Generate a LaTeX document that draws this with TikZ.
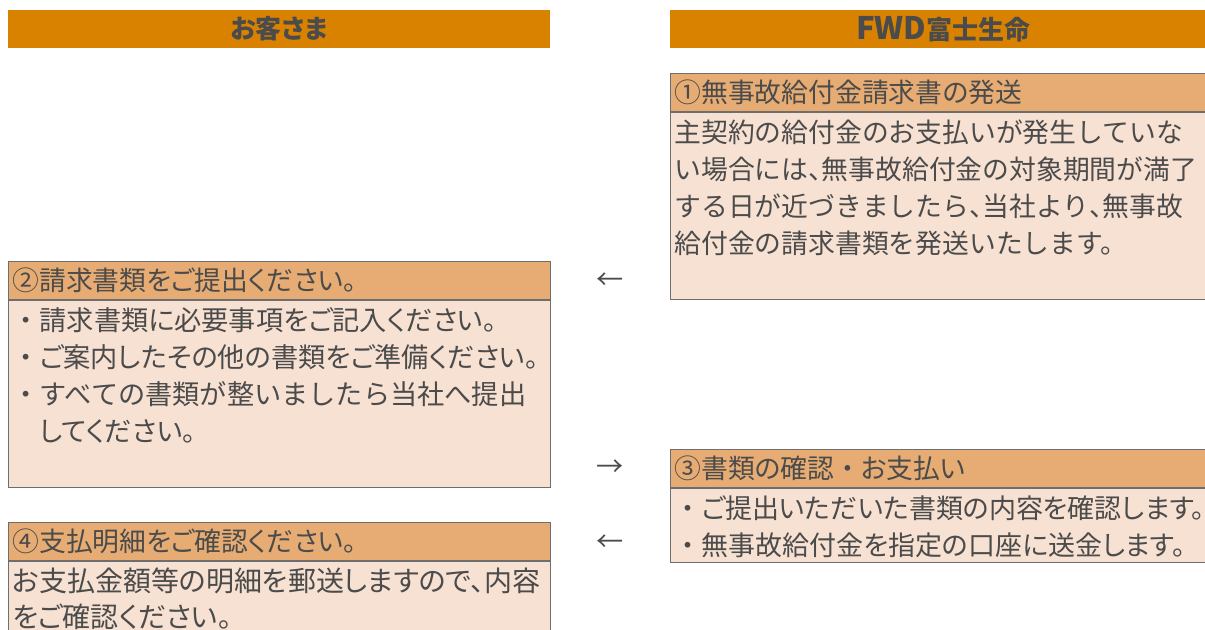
\documentclass[tikz,border=0pt]{standalone}
\usepackage{fontspec}
\setmainfont{Noto Sans CJK JP}[RawFeature=+palt]
\newfontfamily\fullfont{Noto Sans CJK JP}
\newfontfamily\halffont[RawFeature=+halt]{Noto Sans CJK JP}
\usetikzlibrary{positioning}
\definecolor{headorange}{HTML}{D98200}
\definecolor{titleorange}{HTML}{E6AC73}
\definecolor{bodypeach}{HTML}{F7E1D2}
\definecolor{linegray}{HTML}{6E6E6E}
\definecolor{textgray}{HTML}{4B4B4B}
\newcommand{\bodyfont}{\fontsize{13.6pt}{18.5pt}\selectfont}
\newcommand{\titlefont}{\fontsize{13.4pt}{18.5pt}\selectfont}
\newcommand{\headfont}{\fontsize{13pt}{15pt}\selectfont\bfseries}
\newcommand{\dotmark}{{\fullfont ・}}
\newcommand{\tencomma}{{\halffont 、}}
\newcommand{\topstrut}{\rule{0pt}{15.5pt}}

\begin{document}
\begin{tikzpicture}[x=0.5pt, y=-0.5pt,
  headbar/.style={fill=headorange, minimum height=19pt, inner sep=0pt, font=\headfont, text=textgray},
  titlebar/.style={draw=linegray, line width=0.5pt, fill=titleorange, anchor=north west, minimum height=18.75pt, inner xsep=2pt, inner ysep=0pt, align=left, text height=11.5pt, text depth=1.5pt, font=\titlefont, text=textgray},
  bodybox/.style={draw=linegray, line width=0.5pt, fill=bodypeach, inner sep=0pt},
  bodytext/.style={anchor=north west, inner xsep=2pt, inner ysep=0pt, align=left, font=\bodyfont, text=textgray},
  flowarrow/.style={font=\fullfont\bodyfont, text=textgray, inner sep=0pt, text height=11.5pt, text depth=1.5pt}]

\useasboundingbox (0,0) rectangle (1205,629);
\clip (0,0) rectangle (1205,629);

% Column heads
\node[headbar, minimum width=271pt] (custhead) at (279,29) {お客さま};
\node[headbar, minimum width=273.5pt] (fwdhead) at (943.5,29) {{\fontsize{15.5pt}{15pt}\selectfont FWD}富士生命};

% Step 1
\node[titlebar, text width=269.5pt] (t1) at (670,73) {①無事故給付金請求書の発送};
\node[bodybox, minimum width=273.5pt, minimum height=93.5pt, below=0pt of t1] (b1) {};
\node[bodytext, text width=269.5pt, font=\fullfont\fontsize{13.4pt}{18.5pt}\selectfont] (b1txt) at (b1.north west) {\topstrut 主契約の給付金のお支払いが発生していな\\
い場合には\tencomma 無事故給付金の対象期間が満了\\
する日が近づきましたら\tencomma 当社より\tencomma 無事故\\
給付金の請求書類を発送いたします。};

% Step 2
\node[titlebar, text width=267pt] (t2) at (8,261) {②請求書類をご提出ください。};
\node[bodybox, minimum width=271pt, minimum height=93.5pt, below=0pt of t2] (b2) {};
\node[bodytext, text width=267pt] (b2txt) at (b2.north west) {\topstrut\dotmark 請求書類に必要事項をご記入ください。\\
\dotmark ご案内したその他の書類をご準備ください。\\
{\fullfont ・すべての書類が整いましたら当社へ提出}\\
\hspace*{1em}してください。};

% Step 3
\node[titlebar, text width=269.5pt] (t3) at (670,449) {③書類の確認\dotmark お支払い};
\node[bodybox, minimum width=273.5pt, minimum height=37pt, below=0pt of t3] (b3) {};
\node[bodytext, text width=269.5pt, font=\fontsize{13.5pt}{18.5pt}\selectfont] (b3txt) at (b3.north west) {\topstrut\dotmark ご提出いただいた書類の内容を確認します。\\
\dotmark 無事故給付金を指定の口座に送金します。};

% Step 4
\node[titlebar, text width=267pt] (t4) at (8,522) {④支払明細をご確認ください。};
\node[bodybox, minimum width=271pt, minimum height=60pt, below=0pt of t4] (b4) {};
\node[bodytext, text width=267pt, font=\fontsize{14pt}{18pt}\selectfont] (b4txt) at (b4.north west) {\topstrut お支払金額等の明細を郵送しますので、内容\\
をご確認ください。};

% Flow marks
\node[flowarrow] (arr1) at (610,279) {←};
\node[flowarrow] (arr2) at (610,466) {→};
\node[flowarrow] (arr3) at (610,541) {←};

\end{tikzpicture}
\end{document}
